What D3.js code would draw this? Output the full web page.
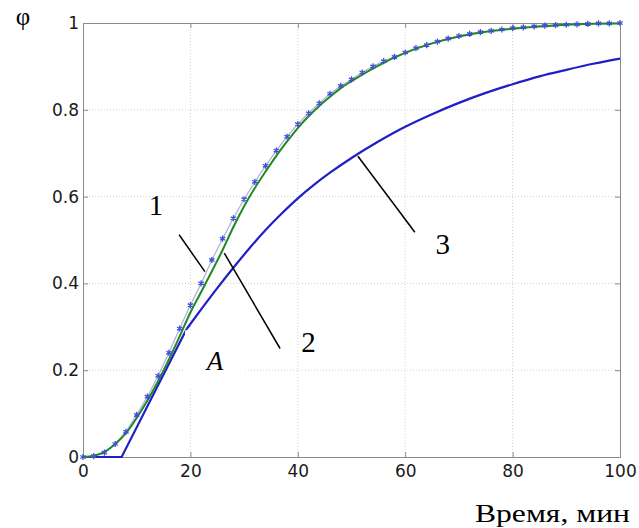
<!DOCTYPE html>
<html>
<head>
<meta charset="utf-8">
<script src="https://cdn.jsdelivr.net/npm/d3@7"></script>
<style>
  body { margin: 0; background: #fff; }
  svg { display: block; }
  .tick text { font-family: "DejaVu Sans", Arial, sans-serif; font-size: 17px; fill: #1a1a1a; }
</style>
</head>
<body>
<svg id="chart" width="639" height="528"></svg>
<script>
// curve 1: measured points every 2 min (drawn with * markers)
var t1 = d3.range(0, 101, 2);
var phi1 = [0, 0.002, 0.01, 0.03, 0.058, 0.097, 0.139, 0.187, 0.240, 0.296,
            0.350, 0.400, 0.454, 0.503, 0.550, 0.594, 0.634, 0.671, 0.706, 0.738,
            0.767, 0.792, 0.815, 0.837, 0.855, 0.870, 0.886, 0.900, 0.912, 0.922,
            0.932, 0.942, 0.949, 0.957, 0.964, 0.970, 0.975, 0.979, 0.982, 0.985,
            0.988, 0.990, 0.992, 0.994, 0.995, 0.996, 0.997, 0.998, 0.999, 0.999, 1.0];

// curve 2 (green)
var t2 = [0, 2, 4, 6, 8, 10, 12, 14, 16, 18, 20, 22, 24, 26, 28, 30, 32, 34, 36, 38,
          40, 42, 44, 46, 48, 50, 55, 60, 65, 70, 75, 80, 85, 90, 95, 100];
var phi2 = [0, 0.003, 0.012, 0.03, 0.055, 0.09, 0.13, 0.175, 0.225, 0.278,
            0.333, 0.38, 0.428, 0.477, 0.53, 0.578, 0.62, 0.658, 0.694, 0.727,
            0.758, 0.785, 0.809, 0.83, 0.85, 0.866, 0.902, 0.931, 0.953, 0.969,
            0.980, 0.987, 0.992, 0.996, 0.998, 0.999];

// curve 3 (blue): straight start, then a saturating part
var t3a = [0, 7.2, 19.3];
var phi3a = [0, 0, 0.295];
var t3b = [19.3, 22, 25, 28, 31, 34, 37, 40, 43, 46, 50, 55, 60, 65, 70, 75, 80,
           85, 90, 95, 100];
var phi3b = [0.295, 0.34, 0.389, 0.436, 0.481, 0.523, 0.561, 0.596, 0.627, 0.655,
             0.689, 0.727, 0.761, 0.79, 0.816, 0.839, 0.859, 0.877, 0.892, 0.906, 0.918];

var xTicks = [0, 20, 40, 60, 80, 100];
var yTicks = [0, 0.2, 0.4, 0.6, 0.8, 1];

// annotation labels, in data units: text, label pos, leader line start -> end
var labels = ['1', '2', '3'];
var labelPos = [[13.6, 0.58], [42, 0.265], [67, 0.49]];
var leaderFrom = [[17.9, 0.512], [26.3, 0.47], [51.2, 0.693]];
var leaderTo = [[22.7, 0.427], [36.7, 0.25], [61.8, 0.518]];

var svg = d3.select('#chart');
var padding = { t: 23, r: 19, b: 71, l: 83 };
var width = +svg.attr('width') - padding.l - padding.r;
var height = +svg.attr('height') - padding.t - padding.b;

var x = d3.scaleLinear().domain([0, 100]).range([0, width]);
var y = d3.scaleLinear().domain([0, 1]).range([height, 0]);

var g = svg.append('g').attr('transform', `translate(${padding.l},${padding.t})`);

// grid
g.append('g').selectAll('line').data(xTicks.slice(1, -1)).enter().append('line')
    .attr('x1', d => x(d)).attr('x2', d => x(d)).attr('y1', 0).attr('y2', height)
    .attr('stroke', '#d2d2d2').attr('stroke-dasharray', '1,2');
g.append('g').selectAll('line').data(yTicks.slice(1, -1)).enter().append('line')
    .attr('y1', d => y(d)).attr('y2', d => y(d)).attr('x1', 0).attr('x2', width)
    .attr('stroke', '#d2d2d2').attr('stroke-dasharray', '1,2');

// axes (MATLAB style, ticks inside)
var axB = g.append('g').attr('transform', `translate(0,${height})`)
    .call(d3.axisBottom(x).tickValues(xTicks).tickSize(-5).tickPadding(8));
var axL = g.append('g')
    .call(d3.axisLeft(y).tickValues(yTicks).tickSize(-5).tickPadding(4).tickFormat(d3.format('')));
var axT = g.append('g')
    .call(d3.axisTop(x).tickValues(xTicks).tickSize(-5).tickFormat(''));
var axR = g.append('g').attr('transform', `translate(${width},0)`)
    .call(d3.axisRight(y).tickValues(yTicks).tickSize(-5).tickFormat(''));
[axB, axL, axT, axR].forEach(function(a) {
    a.select('.domain').attr('stroke', '#8a8a8a');
    a.selectAll('.tick line').attr('stroke', '#8a8a8a');
});

var straight = d3.line().x(d => x(d[0])).y(d => y(d[1]));
var smooth = d3.line().x(d => x(d[0])).y(d => y(d[1])).curve(d3.curveMonotoneX);

// curve 3
g.append('path').datum(d3.zip(t3a, phi3a))
    .attr('d', straight).attr('fill', 'none')
    .attr('stroke', '#1f1fc8').attr('stroke-width', 2.2);
g.append('path').datum(d3.zip(t3b, phi3b))
    .attr('d', smooth).attr('fill', 'none')
    .attr('stroke', '#1f1fc8').attr('stroke-width', 2.2);

// curve 1 line
g.append('path').datum(d3.zip(t1, phi1))
    .attr('d', straight).attr('fill', 'none')
    .attr('stroke', '#b2a9dc').attr('stroke-width', 1.2);

// curve 2
g.append('path').datum(d3.zip(t2, phi2))
    .attr('d', smooth).attr('fill', 'none')
    .attr('stroke', '#1e8a22').attr('stroke-width', 2);

// curve 1 markers
g.append('g').selectAll('path').data(d3.zip(t1, phi1)).enter().append('path')
    .attr('transform', d => `translate(${x(d[0])},${y(d[1])})`)
    .attr('d', d3.symbol(d3.symbolAsterisk, 26))
    .attr('fill', 'none').attr('stroke', '#3d4fd8').attr('stroke-width', 1.3);

// white box with italic A
g.append('rect')
    .attr('x', x(19)).attr('y', y(0.292))
    .attr('width', x(30.2) - x(19)).attr('height', y(0.161) - y(0.292))
    .attr('fill', '#fff');
g.append('text')
    .attr('x', x(24.6)).attr('y', y(0.2))
    .attr('text-anchor', 'middle')
    .style('font-family', '"Liberation Serif", "Times New Roman", serif')
    .style('font-style', 'italic').style('font-size', '27px')
    .text('A');

// curve labels with leaders
labels.forEach(function(lab, i) {
    g.append('line')
        .attr('x1', x(leaderFrom[i][0])).attr('y1', y(leaderFrom[i][1]))
        .attr('x2', x(leaderTo[i][0])).attr('y2', y(leaderTo[i][1]))
        .attr('stroke', '#000').attr('stroke-width', 1.5);
    g.append('text')
        .attr('x', x(labelPos[i][0])).attr('y', y(labelPos[i][1]))
        .attr('text-anchor', 'middle').attr('dy', '0.35em')
        .style('font-family', '"Liberation Serif", "Times New Roman", serif')
        .style('font-size', '29px')
        .text(lab);
});

// axis labels
svg.append('text')
    .attr('x', 23).attr('y', 25)
    .attr('text-anchor', 'middle')
    .style('font-family', '"Liberation Serif", "Times New Roman", serif')
    .style('font-size', '25px')
    .text('φ');
svg.append('text')
    .attr('x', 630).attr('y', 522)
    .attr('text-anchor', 'end')
    .attr('textLength', 155).attr('lengthAdjust', 'spacingAndGlyphs')
    .style('font-family', '"Liberation Serif", "Times New Roman", serif')
    .style('font-size', '26px')
    .text('Время, мин');
</script>
</body>
</html>
